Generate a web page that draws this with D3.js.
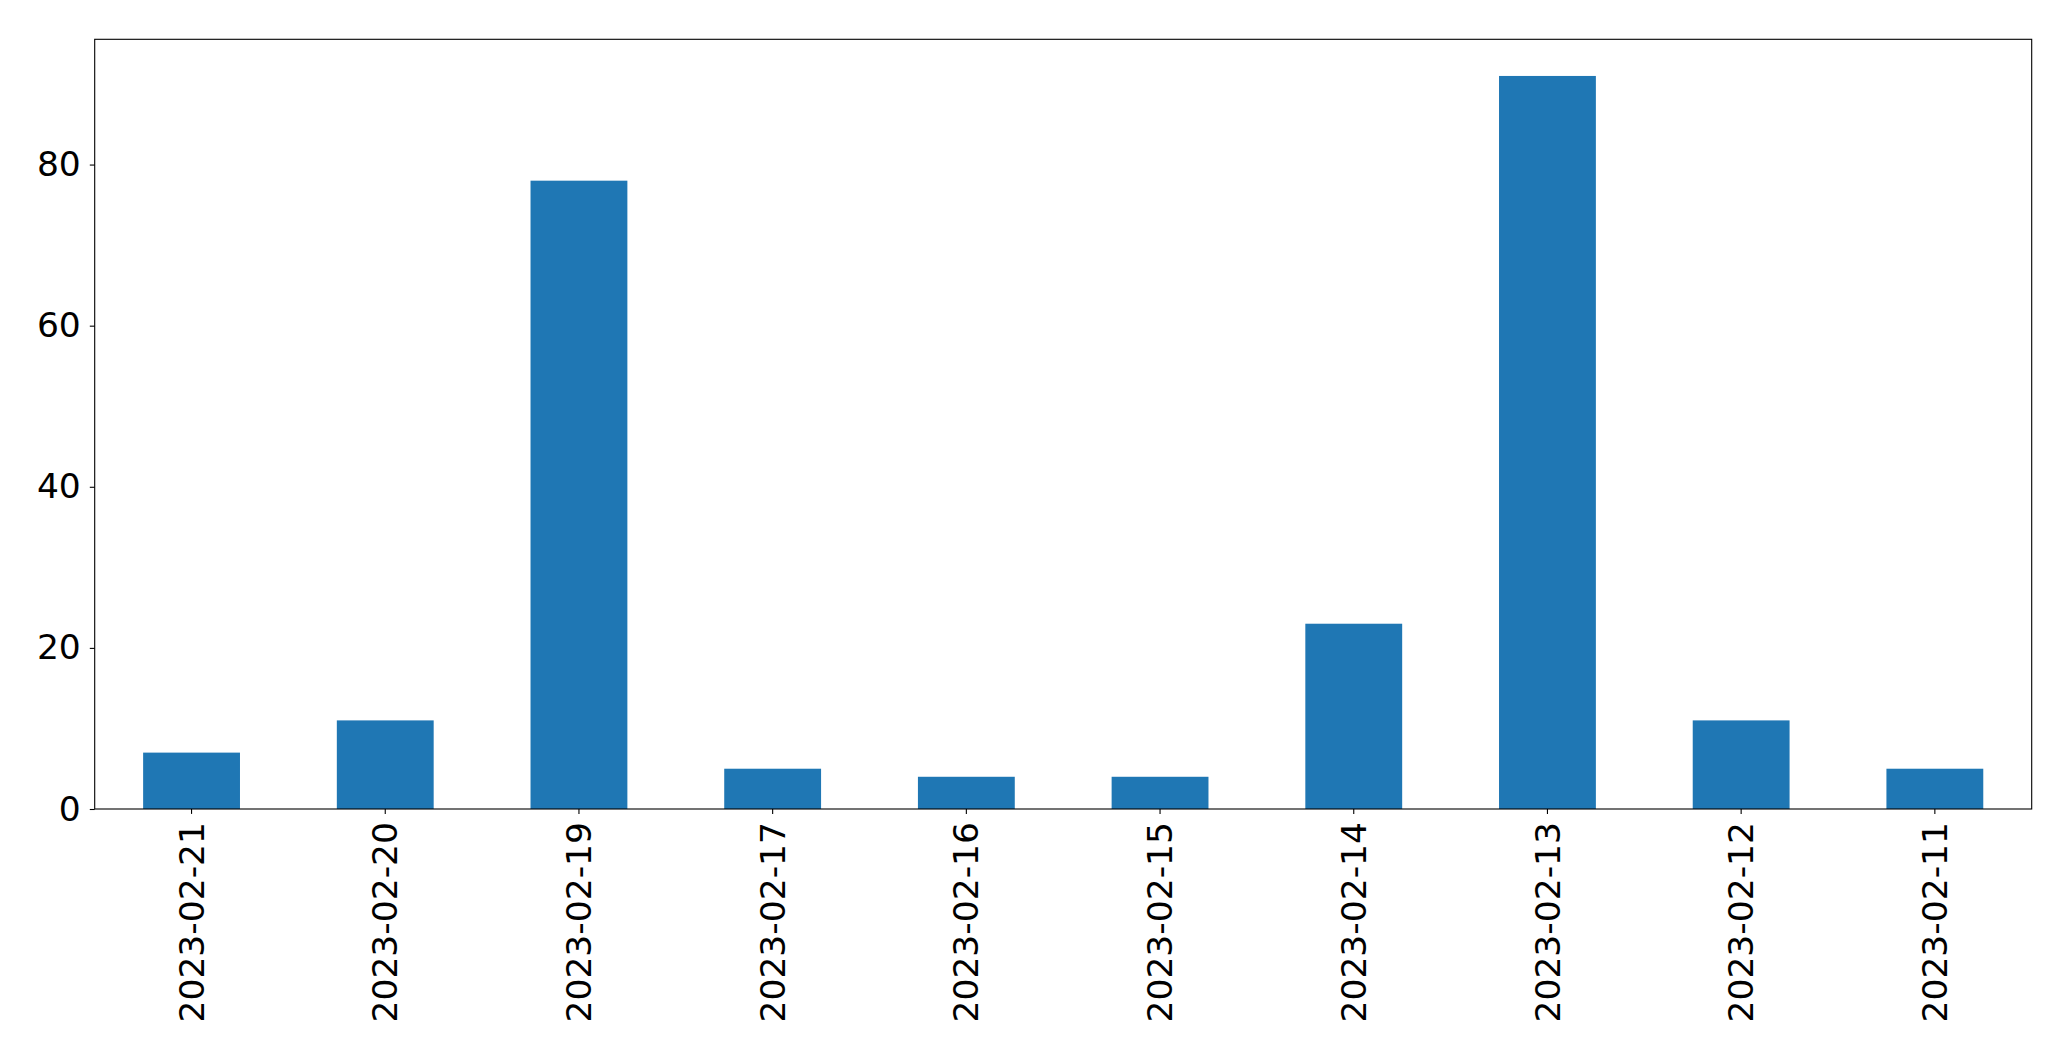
<!DOCTYPE html>
<html><head><meta charset="utf-8">
<script src="https://cdn.jsdelivr.net/npm/d3@7"></script>
<style>body{margin:0;background:#fff}svg{display:block}</style>
</head><body>
<script>
const categories = ["2023-02-21","2023-02-20","2023-02-19","2023-02-17","2023-02-16","2023-02-15","2023-02-14","2023-02-13","2023-02-12","2023-02-11"];
const values = [7, 11, 78, 5, 4, 4, 23, 91, 11, 5];
const yTicks = [0, 20, 40, 60, 80];

const W = 2071, H = 1061;
const m = {left: 94.7, right: W - 2031.7, top: 39.3, bottom: H - 809};
const svg = d3.select("body").append("svg").attr("width", W).attr("height", H);
const iw = W - m.left - m.right, ih = H - m.top - m.bottom;
const g = svg.append("g").attr("transform", `translate(${m.left},${m.top})`);

const x = d3.scaleBand().domain(categories).range([0, iw]).paddingInner(0.5).paddingOuter(0.25);
const y = d3.scaleLinear().domain([0, d3.max(values) * 1.05]).range([ih, 0]);

g.selectAll("rect.bar").data(values).join("rect").attr("class","bar")
  .attr("x", (d,i) => x(categories[i])).attr("width", x.bandwidth())
  .attr("y", d => y(d)).attr("height", d => ih - y(d)).attr("fill", "#1f77b4");

const font = "'DejaVu Sans', sans-serif";
const fs = 34.5;
const ya = g.append("g").call(d3.axisLeft(y).tickValues(yTicks).tickSize(4.9).tickPadding(9).tickFormat(d3.format("d")));
ya.select(".domain").remove();
ya.selectAll("text").attr("font-family", font).attr("font-size", fs).attr("fill","#000");
ya.selectAll("line").attr("stroke","#000").attr("stroke-width",1.1);

const xa = g.append("g").attr("transform", `translate(0,${ih})`).call(d3.axisBottom(x).tickSize(4.9).tickPadding(0));
xa.select(".domain").remove();
xa.selectAll("line").attr("stroke","#000").attr("stroke-width",1.1);
xa.selectAll("text").attr("font-family", font).attr("font-size", fs).attr("fill","#000")
  .attr("transform", "translate(0,13) rotate(-90)").attr("text-anchor","end").attr("dy","0.35em").attr("y",0).attr("x",0);

g.append("rect").attr("width", iw).attr("height", ih).attr("fill","none").attr("stroke","#000").attr("stroke-width",1.1);
</script>
</body></html>
